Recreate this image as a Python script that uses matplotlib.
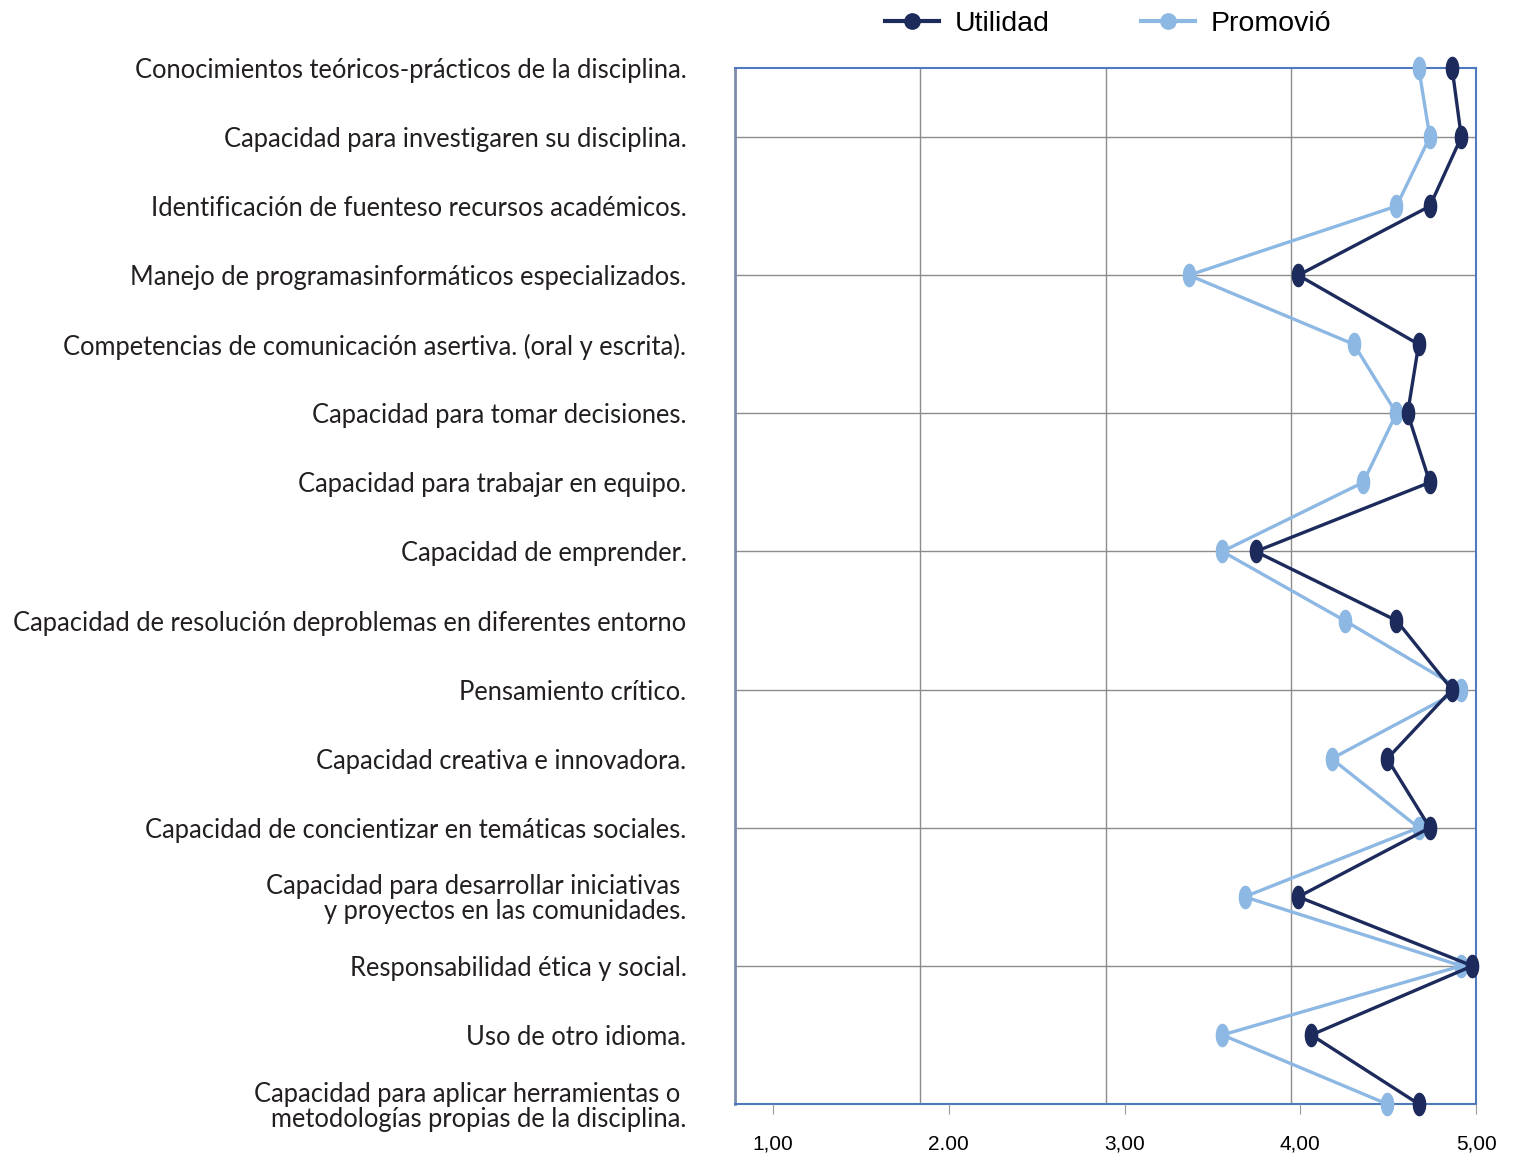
import matplotlib
matplotlib.use("Agg")
import matplotlib.pyplot as plt
import numpy as np
from matplotlib.lines import Line2D
from matplotlib.path import Path

# categories (top to bottom) and the two series
categories = [
    "Conocimientos teóricos-prácticos de la disciplina.",
    "Capacidad para investigaren su disciplina.",
    "Identificación de fuenteso recursos académicos.",
    "Manejo de programasinformáticos especializados.",
    "Competencias de comunicación asertiva. (oral y escrita).",
    "Capacidad para tomar decisiones.",
    "Capacidad para trabajar en equipo.",
    "Capacidad de emprender.",
    "Capacidad de resolución deproblemas en diferentes entorno",
    "Pensamiento crítico.",
    "Capacidad creativa e innovadora.",
    "Capacidad de concientizar en temáticas sociales.",
    "Capacidad para desarrollar iniciativas \ny proyectos en las comunidades.",
    "Responsabilidad ética y social.",
    "Uso de otro idioma.",
    "Capacidad para aplicar herramientas o \nmetodologías propias de la disciplina.",
]
utilidad = [4.87, 4.92, 4.75, 4.04, 4.69, 4.63, 4.75, 3.81,
            4.57, 4.87, 4.52, 4.75, 4.04, 4.98, 4.11, 4.69]
promovio = [4.69, 4.75, 4.57, 3.45, 4.34, 4.57, 4.39, 3.63,
            4.29, 4.92, 4.22, 4.69, 3.75, 4.92, 3.63, 4.52]
tick_values = [1, 2, 3, 4, 5]
tick_labels = ["1,00", "2.00", "3,00", "4,00", "5,00"]

dark = "#1c2a5c"
light = "#8db8e3"
frame_blue = "#4f79bd"

# tall elliptical marker like the original
t = np.linspace(0, 2 * np.pi, 40)
ellipse = Path(np.column_stack([0.55 * np.cos(t), np.sin(t)]), closed=True)

fig = plt.figure(figsize=(15.14, 11.57), dpi=100)
ax = fig.add_axes([0.4855, 0.0458, 0.4895, 0.8954])

y = np.arange(len(categories))
ax.plot(promovio, y, color=light, lw=2.4, marker=ellipse, ms=16, zorder=6,
        clip_on=False)
ax.plot(utilidad, y, color=dark, lw=2.4, marker=ellipse, ms=16, zorder=7,
        clip_on=False)

ax.set_xlim(1, 5)
ax.set_ylim(len(categories) - 1, 0)

# vertical grid at 2,3,4
ax.set_xticks(tick_values)
ax.tick_params(axis="x", length=0, labelbottom=False)
ax.grid(axis="x", color="#8c8c8c", lw=1)
# horizontal grid every second category
for yy in y[1::2]:
    ax.axhline(yy, color="#8c8c8c", lw=1, zorder=1)

ax.set_yticks(y)
ax.set_yticklabels(categories, fontsize=18.4, family="Lato",
                   color="#231f20", linespacing=1.0)
ax.tick_params(axis="y", length=0, pad=35)

for side in ["top", "right", "bottom"]:
    ax.spines[side].set_color(frame_blue)
    ax.spines[side].set_linewidth(1.5)
ax.spines["left"].set_color("#7d8daa")
ax.spines["left"].set_linewidth(2)
for s in ax.spines.values():
    s.set_zorder(5)

# value labels sit on their own (shifted) scale, as in the original
ax2 = ax.twiny()
ax2.set_xlim(0.784, 5)
ax2.xaxis.set_ticks_position("bottom")
ax2.xaxis.set_label_position("bottom")
ax2.set_xticks(tick_values)
ax2.set_xticklabels(tick_labels, fontsize=15,
                    family=["Liberation Sans Narrow", "Liberation Sans"])
ax2.tick_params(axis="x", direction="out", length=7, color="#999999", pad=15)
for s in ax2.spines.values():
    s.set_visible(False)

handles = [
    Line2D([], [], color=dark, lw=3, marker="o", ms=11),
    Line2D([], [], color=light, lw=3, marker="o", ms=11),
]
fig.legend(handles, ["Utilidad", "Promovió"], loc="center",
           bbox_to_anchor=(0.732, 0.979), ncol=2, frameon=False,
           prop={"family": "Liberation Sans", "size": 20.5},
           handlelength=1.9, handletextpad=0.55, columnspacing=3.2)

fig.savefig("out.png", dpi=100, facecolor="white")
